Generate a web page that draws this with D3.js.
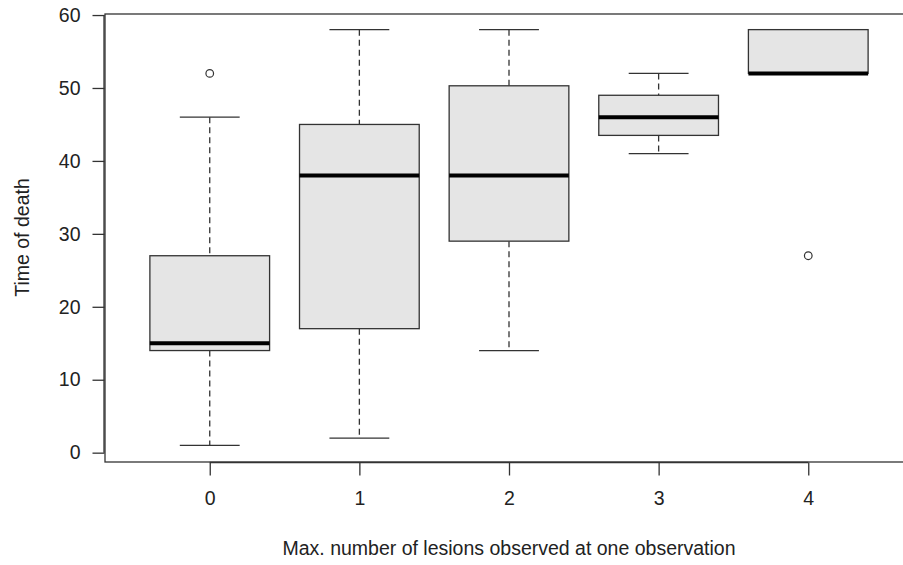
<!DOCTYPE html>
<html>
<head>
<meta charset="utf-8">
<script src="https://cdn.jsdelivr.net/npm/d3@7"></script>
<style>
  body { margin: 0; background: #fff; }
  text { font-family: "Liberation Sans", Arial, sans-serif; fill: #222; }
</style>
</head>
<body>
<div id="chart"></div>
<script>
// groups on the x axis
var groups = ["0", "1", "2", "3", "4"]
// five number summaries per group (lower whisker, q1, median, q3, upper whisker)
var lowerWhisker = [1, 2, 14, 41, 52]
var q1 = [14, 17, 29, 43.5, 52]
var median = [15, 38, 38, 46, 52]
var q3 = [27, 45, 50.3, 49, 58]
var upperWhisker = [46, 58, 58, 52, 58]
// outliers: [group index, value]
var outliers = [[0, 52], [4, 27]]
var yTicks = [0, 10, 20, 30, 40, 50, 60]

var width = 903, height = 565
var margin = {top: 13, left: 105, right: 913, bottom: 462}

var svg = d3.select("#chart").append("svg")
  .attr("width", width)
  .attr("height", height)

var xScale = d3.scaleLinear()
  .domain([0.3, groups.length + 0.7])
  .range([margin.left, margin.right])

var yScale = d3.scaleLinear()
  .domain([-1.28, 60.28])
  .range([margin.bottom, margin.top])

var boxW = 0.8 * (xScale(2) - xScale(1))
var stroke = "#333"

var data = groups.map(function(g, i) {
  return {g: g, x: xScale(i + 1), lo: lowerWhisker[i], q1: q1[i], med: median[i], q3: q3[i], hi: upperWhisker[i]}
})

var gBox = svg.append("g")

var boxes = gBox.selectAll("g.box").data(data).enter().append("g").attr("class", "box")

// whiskers
boxes.append("line")
  .attr("x1", d => d.x).attr("x2", d => d.x)
  .attr("y1", d => yScale(d.hi)).attr("y2", d => yScale(d.q3))
  .attr("stroke", stroke).attr("stroke-width", 1.3).attr("stroke-dasharray", "6,4")
boxes.append("line")
  .attr("x1", d => d.x).attr("x2", d => d.x)
  .attr("y1", d => yScale(d.q1)).attr("y2", d => yScale(d.lo))
  .attr("stroke", stroke).attr("stroke-width", 1.3).attr("stroke-dasharray", "6,4")
// caps
boxes.append("line")
  .attr("x1", d => d.x - boxW / 4).attr("x2", d => d.x + boxW / 4)
  .attr("y1", d => yScale(d.hi)).attr("y2", d => yScale(d.hi))
  .attr("stroke", stroke).attr("stroke-width", 1.3)
boxes.append("line")
  .attr("x1", d => d.x - boxW / 4).attr("x2", d => d.x + boxW / 4)
  .attr("y1", d => yScale(d.lo)).attr("y2", d => yScale(d.lo))
  .attr("stroke", stroke).attr("stroke-width", 1.3)
// box
boxes.append("rect")
  .attr("x", d => d.x - boxW / 2)
  .attr("width", boxW)
  .attr("y", d => yScale(d.q3))
  .attr("height", d => yScale(d.q1) - yScale(d.q3))
  .attr("fill", "#e5e5e5")
  .attr("stroke", stroke).attr("stroke-width", 1.3)
// median
boxes.append("line")
  .attr("x1", d => d.x - boxW / 2).attr("x2", d => d.x + boxW / 2)
  .attr("y1", d => yScale(d.med)).attr("y2", d => yScale(d.med))
  .attr("stroke", "#000").attr("stroke-width", 4)

// outliers
gBox.selectAll("circle").data(outliers).enter().append("circle")
  .attr("cx", d => xScale(d[0] + 1))
  .attr("cy", d => yScale(d[1]))
  .attr("r", 3.8)
  .attr("fill", "none")
  .attr("stroke", stroke).attr("stroke-width", 1.2)

// plot frame
svg.append("rect")
  .attr("x", margin.left).attr("y", margin.top + 1)
  .attr("width", margin.right - margin.left)
  .attr("height", margin.bottom - margin.top - 1)
  .attr("fill", "none").attr("stroke", stroke).attr("stroke-width", 1.3)

// y axis
var yAxis = d3.axisLeft(yScale).tickValues(yTicks).tickSize(12).tickPadding(12).tickFormat(d3.format("d"))
var gy = svg.append("g").attr("transform", "translate(" + (margin.left - 0.5) + ",0)").call(yAxis)
gy.select(".domain").attr("d", "M-0.5," + yScale(0) + "V" + yScale(60)).attr("stroke", stroke).attr("stroke-width", 1.3)
gy.selectAll(".tick line").attr("stroke", stroke).attr("stroke-width", 1.3)
gy.selectAll(".tick text").style("font-size", "19.5px").attr("fill", "#222").attr("font-family", null)

// x axis
var xAxis = d3.axisBottom(xScale).tickValues(d3.range(1, groups.length + 1)).tickSize(13).tickPadding(16)
  .tickFormat(d => groups[d - 1])
var gx = svg.append("g").attr("transform", "translate(0," + (margin.bottom + 0.5) + ")").call(xAxis)
gx.select(".domain").attr("d", "M" + xScale(1) + ",0H" + xScale(groups.length)).attr("stroke", stroke).attr("stroke-width", 1.3)
gx.selectAll(".tick line").attr("stroke", stroke).attr("stroke-width", 1.3)
gx.selectAll(".tick text").style("font-size", "19.5px").attr("fill", "#222").attr("font-family", null)

// axis titles
svg.append("text")
  .attr("x", (xScale(1) + xScale(groups.length)) / 2 + 0)
  .attr("y", 555)
  .attr("text-anchor", "middle")
  .style("font-size", "19.5px")
  .text("Max. number of lesions observed at one observation")

svg.append("text")
  .attr("transform", "translate(29," + (margin.top + margin.bottom) / 2 + ") rotate(-90)")
  .attr("text-anchor", "middle")
  .style("font-size", "19.5px")
  .text("Time of death")
</script>
</body>
</html>
